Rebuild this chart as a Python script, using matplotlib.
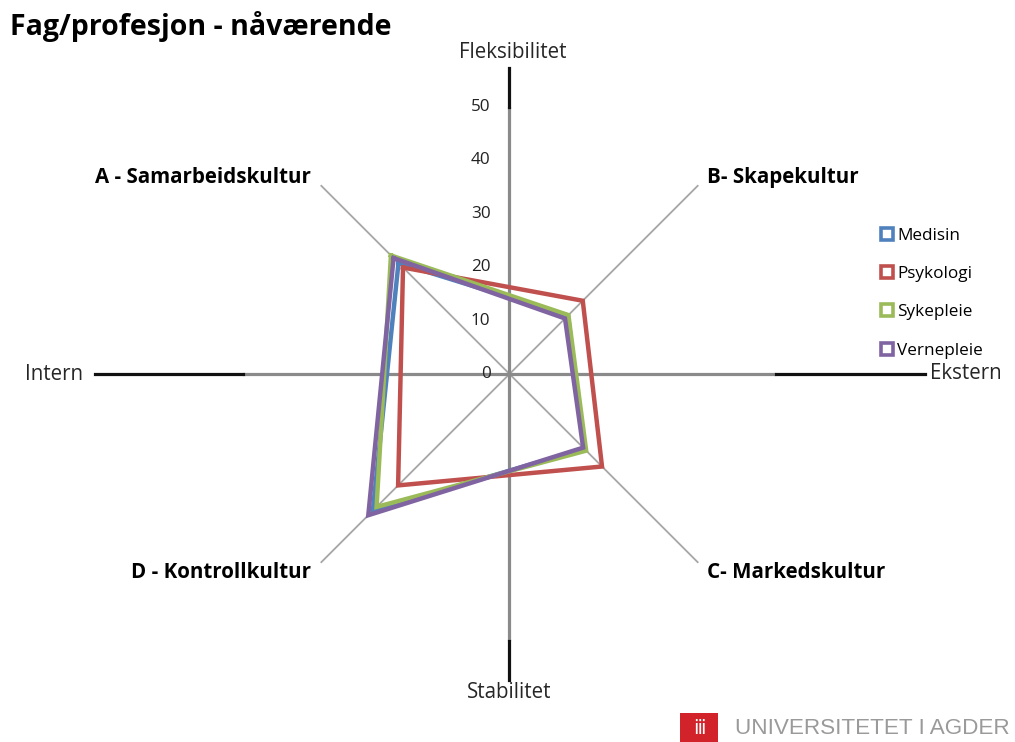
import numpy as np
import matplotlib
matplotlib.use("Agg")
import matplotlib.pyplot as plt
from matplotlib.lines import Line2D
from matplotlib.patches import Rectangle

plt.rcParams['font.family'] = ['Open Sans', 'DejaVu Sans']

title = "Fag/profesjon - nåværende"
categories = ["A - Samarbeidskultur", "B- Skapekultur", "C- Markedskultur", "D - Kontrollkultur"]
series_names = ["Medisin", "Psykologi", "Sykepleie", "Vernepleie"]
medisin = [29.4, 15.5, 19.8, 36.2]
psykologi = [28.2, 19.4, 24.5, 29.5]
sykepleie = [31.4, 15.6, 20.3, 35.2]
vernepleie = [30.7, 14.7, 19.5, 37.4]
r_ticks = [0, 10, 20, 30, 40, 50]
r_max = 50
dim_labels = ["Fleksibilitet", "Ekstern", "Stabilitet", "Intern"]

colors = ["#4F81BD", "#C0504D", "#9BBB59", "#8064A2"]
values = [medisin, psykologi, sykepleie, vernepleie]

W, H = 1015, 742
fig = plt.figure(figsize=(W / 100, H / 100), dpi=100)

cx, cy = 509.5, 742 - 374
rad = 267
ax = fig.add_axes([(cx - rad) / W, (cy - rad) / H, 2 * rad / W, 2 * rad / H], projection='polar')
ax.set_theta_offset(np.pi * 3 / 4)
ax.set_theta_direction(-1)
ax.set_ylim(0, r_max)
ax.grid(False)
ax.set_xticks([])
ax.set_yticks([])
ax.spines['polar'].set_visible(False)
ax.patch.set_alpha(0)

n = len(categories)
theta = np.arange(n) * 2 * np.pi / n

# diagonal category spokes
for t in theta:
    ax.plot([t, t], [0, r_max], color="#A6A6A6", lw=1.3, zorder=1)

# dimension cross lines (gray inside, black outside)
dim_theta = theta + np.pi / 4  # up, right, down, left
dim_ext = [57.3, 77.8, 57.3, 77.6]
for t, ext in zip(dim_theta, dim_ext):
    ax.plot([t, t], [0, r_max], color="#8A8A8A", lw=2.3, zorder=1)
    ax.plot([t, t], [r_max, ext], color="#111111", lw=2.3, zorder=1, clip_on=False)

# series polygons
for name, vals, c in zip(series_names, values, colors):
    tt = np.concatenate([theta, theta[:1]])
    vv = np.concatenate([vals, vals[:1]])
    ax.plot(tt, vv, color=c, lw=3.2, zorder=3, solid_joinstyle='miter', label=name)

# radial tick labels along the vertical axis
for r in r_ticks:
    ax.annotate(str(r), xy=(dim_theta[0], r), xytext=(-19, 0), textcoords='offset pixels',
                ha='right', va='center', fontsize=12.3, color="#222222", zorder=4)

# category labels
cat_offsets = [(-10, 8, 'right'), (9, 8, 'left'), (9, -10, 'left'), (-10, -10, 'right')]
for t, lab, (dx, dy, ha) in zip(theta, categories, cat_offsets):
    ax.annotate(lab, xy=(t, r_max), xytext=(dx, dy), textcoords='offset pixels',
                ha=ha, va='center', fontsize=14.8, fontweight='bold', color="#000000",
                annotation_clip=False)

# dimension labels
dim_offsets = [(3, 16, 'center'), (5, 0, 'left'), (0, -13, 'center'), (-12, 0, 'right')]
for t, ext, lab, (dx, dy, ha) in zip(dim_theta, dim_ext, dim_labels, dim_offsets):
    ax.annotate(lab, xy=(t, ext), xytext=(dx, dy), textcoords='offset pixels',
                ha=ha, va='center', fontsize=14.8, color="#262626", annotation_clip=False)

# legend
handles = [Line2D([], [], ls='none', marker='s', markersize=8.5, markerfacecolor='white',
                  markeredgecolor=c, markeredgewidth=2.6) for c in colors]
fig.legend(handles, series_names, loc='upper left', bbox_to_anchor=(881 / W, 1 - 228 / H),
           frameon=False, fontsize=12.3, handlelength=0.7, handletextpad=0.25,
           labelspacing=1.3, borderpad=0, borderaxespad=0)

# title
fig.text(10 / W, 1 - 27 / H, title, fontsize=20.5, fontweight='bold', ha='left', va='center')

# logo
fig.patches.append(Rectangle((680 / W, 0), 38 / W, 29 / H, transform=fig.transFigure,
                             facecolor="#D2232A", edgecolor='none'))
fig.text(699 / W, 14 / H, "ⅲ", fontsize=14, color='white', ha='center', va='center',
         family=['DejaVu Sans'])
fig.text(735 / W, 13 / H, "UNIVERSITETET I AGDER", fontsize=16.2, color="#9A9A9A",
         ha='left', va='center', family=['Liberation Sans', 'DejaVu Sans'])

fig.savefig("out.png", dpi=100, facecolor='white')
